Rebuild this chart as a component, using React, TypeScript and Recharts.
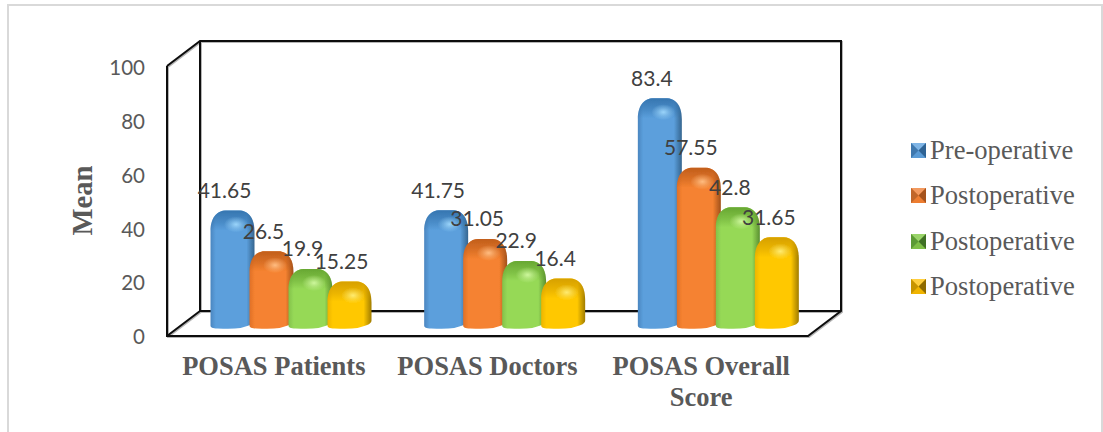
import React from "react";
import { BarChart, Bar, XAxis, YAxis, Legend, LabelList } from "recharts";

const categories = ["POSAS Patients", "POSAS Doctors", "POSAS Overall Score"];
const categoryLines = [["POSAS Patients"], ["POSAS Doctors"], ["POSAS Overall", "Score"]];
const preOperative = [41.65, 41.75, 83.4];
const postoperativeA = [26.5, 31.05, 57.55];
const postoperativeB = [19.9, 22.9, 42.8];
const postoperativeC = [15.25, 16.4, 31.65];
const yTicks = [0, 20, 40, 60, 80, 100];
const seriesNames = ["Pre-operative", "Postoperative", "Postoperative", "Postoperative"];
const seriesKeys = ["pre", "postA", "postB", "postC"];
const seriesValues = [preOperative, postoperativeA, postoperativeB, postoperativeC];
const palette = [
  { id: "blue", base: "#5B9FDC", left: "#4B86C0", dark: "#35658F", top: "#2F6EA8", glow: "#9AD4FA", m: ["#5B9BD5", "#2F6394", "#3F78AE", "#7FB5E6"] },
  { id: "orange", base: "#F58230", left: "#DF7028", dark: "#A0501A", top: "#B85818", glow: "#FFBC80", m: ["#ED7D31", "#A5521C", "#C0662A", "#F29A60"] },
  { id: "green", base: "#96D957", left: "#83C24A", dark: "#5A8F30", top: "#5F9E2C", glow: "#CDF79C", m: ["#7FBF47", "#3F7025", "#5C9A35", "#9AD46A"] },
  { id: "yellow", base: "#FFC800", left: "#EDB500", dark: "#A07C00", top: "#CF9900", glow: "#FFEB70", m: ["#F0B400", "#8F6B00", "#C79400", "#FFCF40"] },
];

const data = categories.map((name, i) => {
  const row: Record<string, any> = { name };
  seriesKeys.forEach((k, s) => { row[k] = seriesValues[s][i]; });
  return row;
});

const W = 1103, H = 432;
const PLOT_LEFT = 167, PLOT_TOP = 66, PLOT_W = 641, PLOT_H = 269;
const DEPTH_X = 33, DEPTH_Y = 25;
const BAR_DX = DEPTH_X / 2 + 1, BAR_DY = DEPTH_Y / 2;
const SERIF = '"Liberation Serif", serif';
const SANS = 'Lato, sans-serif';

function Frame() {
  const l = PLOT_LEFT, t = PLOT_TOP, r = l + PLOT_W, b = t + PLOT_H + 1;
  const dx = DEPTH_X, dy = DEPTH_Y;
  const d = [
    `M${l} ${t}V${b}H${r}L${r + dx} ${b - dy}V${t - dy}H${l + dx}L${l} ${t}`,
    `M${l + dx} ${t - dy}V${b - dy}H${r + dx}`,
    `M${l} ${b}L${l + dx} ${b - dy}`,
  ].join("");
  return (
    <g>
      <path d={d} transform="translate(1 1)" fill="none" stroke="#b5b5b5" strokeWidth={2} />
      <path d={d} fill="none" stroke="#0d0d0d" strokeWidth={2} />
    </g>
  );
}

function Defs() {
  return (
    <defs>
      {palette.map((p) => (
        <linearGradient key={p.id} id={`side-${p.id}`} x1="0" x2="1" y1="0" y2="0">
          <stop offset="0" stopColor={p.left} />
          <stop offset="0.12" stopColor={p.base} />
          <stop offset="0.82" stopColor={p.base} />
          <stop offset="1" stopColor={p.dark} />
        </linearGradient>
      ))}
      {palette.map((p) => (
        <linearGradient key={p.id} id={`cap-${p.id}`} x1="0" x2="0" y1="0" y2="1">
          <stop offset="0" stopColor={p.top} stopOpacity={0.85} />
          <stop offset="0.6" stopColor={p.top} stopOpacity={0.4} />
          <stop offset="1" stopColor={p.top} stopOpacity={0} />
        </linearGradient>
      ))}
      {palette.map((p) => (
        <radialGradient key={p.id} id={`glow-${p.id}`}>
          <stop offset="0" stopColor={p.glow} stopOpacity={1} />
          <stop offset="0.5" stopColor={p.glow} stopOpacity={0.45} />
          <stop offset="1" stopColor={p.glow} stopOpacity={0} />
        </radialGradient>
      ))}
      <filter id="soft" x="-10%" y="-10%" width="120%" height="120%">
        <feGaussianBlur stdDeviation="0.5" />
      </filter>
    </defs>
  );
}

function makeShape(s: number) {
  return function Shape(props: any) {
    const p = palette[s];
    const w = props.width;
    const x = props.x + BAR_DX;
    const top = props.y - BAR_DY;
    const bottom = props.y + props.height - BAR_DY + 6;
    const rx = 15, ry = 13, bx = 7, by = 4;
    const body =
      `M${x} ${top + ry + 8}C${x} ${top + 6} ${x + rx * 0.5} ${top} ${x + rx} ${top}` +
      `H${x + w - rx}C${x + w - rx * 0.5} ${top} ${x + w} ${top + 6} ${x + w} ${top + ry + 8}` +
      `V${bottom - by * 2}C${x + w} ${bottom - by} ${x + w - bx} ${bottom - by * 0.6} ${x + w - bx * 2} ${bottom - 0.5}` +
      `Q${x + w / 2} ${bottom + 0.8} ${x + bx} ${bottom}` +
      `C${x + 2} ${bottom} ${x} ${bottom - 1} ${x} ${bottom - 3}Z`;
    return (
      <g filter="url(#soft)">
        <path d={body} fill={`url(#side-${p.id})`} />
        <path
          d={`M${x} ${top + 20}C${x} ${top + 6} ${x + rx * 0.5} ${top} ${x + rx} ${top}H${x + w - rx}C${x + w - rx * 0.5} ${top} ${x + w} ${top + 6} ${x + w} ${top + 20}Z`}
          fill={`url(#cap-${p.id})`}
        />
        <ellipse cx={x + w * 0.58} cy={top + 14} rx={12} ry={8} fill={`url(#glow-${p.id})`} />
      </g>
    );
  };
}

function valueLabel(props: any) {
  const { x, y, width, value } = props;
  return (
    <text
      x={x + width / 2 + BAR_DX - 8}
      y={y - BAR_DY - 12.5}
      textAnchor="middle"
      fontFamily={SANS}
      fontSize={21}
      fill="#404040"
    >
      {value}
    </text>
  );
}

function CategoryTick(props: any) {
  const { x, y, payload, index } = props;
  const lines = categoryLines[index] || [payload.value];
  return (
    <text x={x} y={y + 32} textAnchor="middle" fontFamily={SERIF} fontWeight="bold" fontSize={26.5} fill="#595959">
      {lines.map((line: string, i: number) => (
        <tspan key={i} x={x} dy={i === 0 ? 0 : 31}>
          {line}
        </tspan>
      ))}
    </text>
  );
}

function MeanLabel() {
  return (
    <text
      transform="translate(92 200.5) rotate(-90)"
      textAnchor="middle"
      fontFamily={SERIF}
      fontWeight="bold"
      fontSize={29}
      fill="#595959"
      textLength={70}
      lengthAdjust="spacingAndGlyphs"
    >
      Mean
    </text>
  );
}

function LegendContent(props: any) {
  const items = [...(props.payload || [])].sort(
    (a: any, b: any) => seriesKeys.indexOf(a.dataKey) - seriesKeys.indexOf(b.dataKey)
  );
  return (
    <div style={{ display: "flex", flexDirection: "column" }}>
      {items.map((it: any, i: number) => {
        const m = palette[i].m;
        return (
          <div key={i} style={{ display: "flex", alignItems: "center", height: 45.5 }}>
            <svg width={15} height={15} style={{ marginRight: 4, flex: "none" }}>
              <rect width={15} height={15} fill={m[0]} />
              <polygon points="0,0 15,0 7.5,7.5" fill={m[3]} />
              <polygon points="15,0 15,15 7.5,7.5" fill={m[1]} />
              <polygon points="0,0 0,15 7.5,7.5" fill={m[2]} />
            </svg>
            <span style={{ fontFamily: SERIF, fontSize: 26.6, color: "#595959", whiteSpace: "nowrap" }}>{it.value}</span>
          </div>
        );
      })}
    </div>
  );
}

const LEGEND_W = 175;

export default function App() {
  return (
    <div style={{ position: "absolute", left: 0, top: 0, width: W, height: H, overflow: "hidden", background: "#fff" }}>
      <div style={{ position: "absolute", left: 7, top: 4, width: W - 7, height: H, border: "2px solid #d9d9d9", boxSizing: "border-box" }} />
      <BarChart
        width={W}
        height={H}
        data={data}
        margin={{ left: PLOT_LEFT - 60, top: PLOT_TOP, right: W - PLOT_LEFT - PLOT_W - LEGEND_W, bottom: 0 }}
        barSize={44}
        barGap={-5}
      >
        <Defs />
        <Frame />
        <XAxis dataKey="name" axisLine={false} tickLine={false} height={H - PLOT_TOP - PLOT_H} tick={CategoryTick} interval={0} />
        <YAxis
          width={60}
          domain={[0, 100]}
          ticks={yTicks}
          axisLine={false}
          tickLine={false}
          tickSize={0}
          tickMargin={22}
          tick={{ fontFamily: SANS, fontSize: 20.5, fill: "#595959", dy: 2 }}
          label={{ content: MeanLabel }}
        />
        {seriesKeys.map((k, s) => (
          <Bar key={k} dataKey={k} name={seriesNames[s]} fill={palette[s].base} shape={makeShape(s)} isAnimationActive={false}>
            <LabelList dataKey={k} content={valueLabel} />
          </Bar>
        ))}
        <Legend
          layout="vertical"
          align="right"
          verticalAlign="top"
          width={LEGEND_W}
          itemSorter={null}
          content={LegendContent}
          wrapperStyle={{ left: 911, top: 127.5, width: LEGEND_W }}
        />
      </BarChart>
    </div>
  );
}
